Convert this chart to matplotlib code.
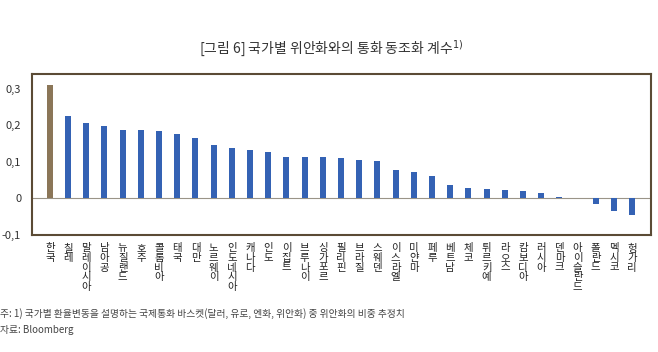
import matplotlib.pyplot as plt
from matplotlib.ticker import FuncFormatter

plt.rcParams['font.family'] = ['Noto Sans CJK KR', 'DejaVu Sans']

countries = ['한국', '칠레', '말레이시아', '남아공', '뉴질랜드', '호주', '콜롬비아', '태국',
             '대만', '노르웨이', '인도네시아', '캐나다', '인도', '이집트', '브루나이', '싱가포르',
             '필리핀', '브라질', '스웨덴', '이스라엘', '미얀마', '페루', '베트남', '체코',
             '튀르키예', '라오스', '캄보디아', '러시아', '덴마크', '아이슬란드', '폴란드',
             '멕시코', '헝가리']
values = [0.309, 0.224, 0.206, 0.198, 0.187, 0.187, 0.184, 0.177,
          0.165, 0.147, 0.139, 0.133, 0.127, 0.114, 0.114, 0.113,
          0.110, 0.104, 0.103, 0.079, 0.072, 0.061, 0.038, 0.030,
          0.027, 0.022, 0.021, 0.016, 0.003, 0.002, -0.014,
          -0.033, -0.045]
yticks = [-0.1, 0, 0.1, 0.2, 0.3]

fig = plt.figure(figsize=(6.58, 3.52), dpi=100)
ax = fig.add_axes([0.049, 0.332, 0.940, 0.458])

colors = ['#8b7658'] + ['#3462b4'] * (len(values) - 1)
x = list(range(len(values)))
ax.bar(x, values, width=0.33, color=colors, zorder=2)
ax.axhline(0, color='#9a9488', lw=0.8, zorder=1)

ax.set_xlim(-0.97, len(values) + 0.02)
ax.set_ylim(-0.1, 0.34)
ax.set_yticks(yticks)
ax.yaxis.set_major_formatter(FuncFormatter(
    lambda v, p: '0' if abs(v) < 1e-9 else ('%.1f' % v).replace('.', ',')))
ax.tick_params(axis='y', length=0, pad=8, labelsize=8, colors='#333333')
ax.set_xticks(x)
ax.set_xticklabels(['\n'.join(c) for c in countries], fontsize=7.5,
                   linespacing=0.95, va='top', color='#222222')
ax.tick_params(axis='x', length=0, pad=6)

for s in ax.spines.values():
    s.set_color('#5b4b35')
    s.set_linewidth(1.5)

fig.text(0.503, 0.862, '[그림 6] 국가별 위안화와의 통화 동조화 계수$^{1)}$',
         ha='center', va='center', fontsize=10, color='#333333')
fig.text(0.0, 0.11, '주: 1) 국가별 환율변동을 설명하는 국제통화 바스켓(달러, 유로, 엔화, 위안화) 중 위안화의 비중 추정치',
         ha='left', va='center', fontsize=7, color='#444444')
fig.text(0.0, 0.063, '자료: Bloomberg', ha='left', va='center', fontsize=7, color='#444444')

fig.savefig('out.png', dpi=100)
